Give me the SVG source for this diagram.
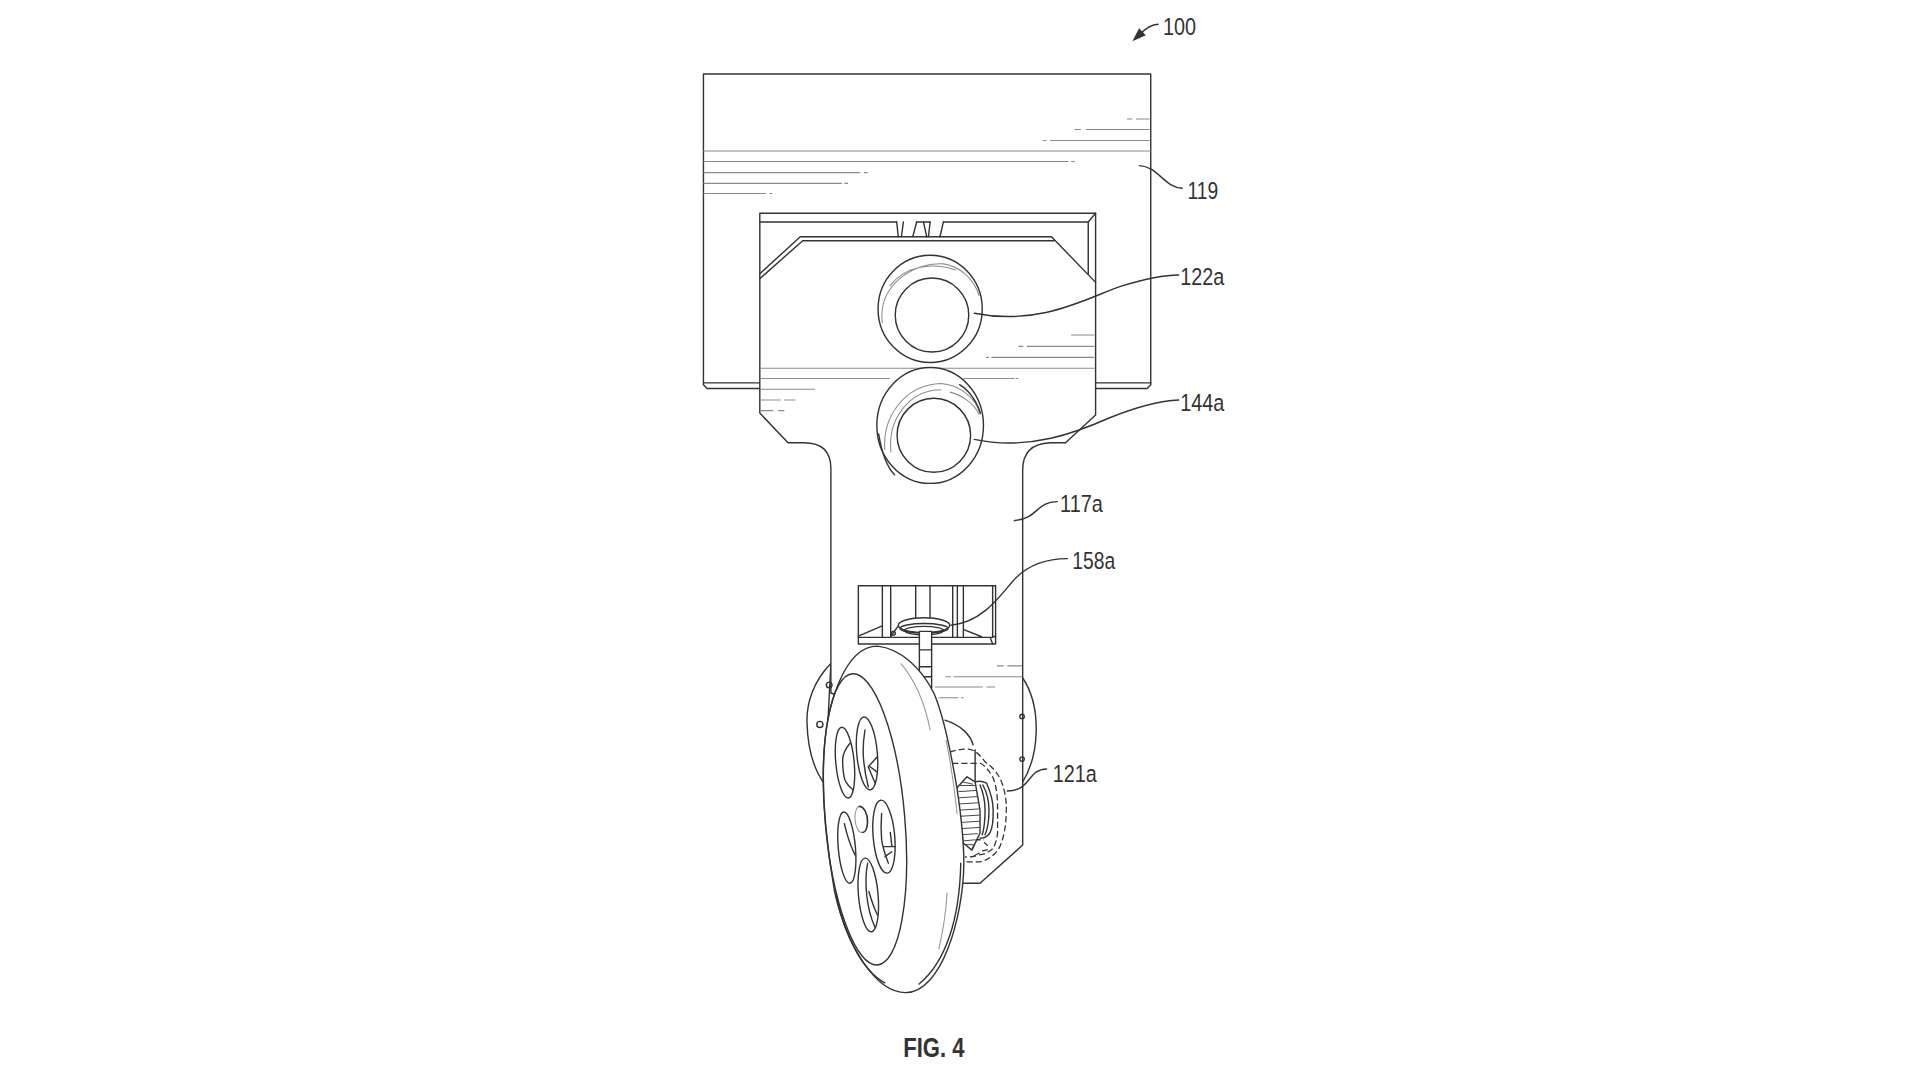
<svg xmlns="http://www.w3.org/2000/svg" width="1920" height="1080" viewBox="0 0 1920 1080">
<style>
.l{fill:none;stroke:#333;stroke-width:1.15;stroke-linecap:round;stroke-linejoin:round}
.f{fill:#fff;stroke:#333;stroke-width:1.15;stroke-linejoin:round}
.h{fill:none;stroke:#8a8a8a;stroke-width:.85}
.d{fill:none;stroke:#333;stroke-width:1.05;stroke-dasharray:5 2.5}
.t{fill:none;stroke:#444;stroke-width:.8}
.g{fill:none;stroke:#9a9a9a;stroke-width:.9}
.n{font-family:"Liberation Sans",Arial,sans-serif;font-size:19.5px;fill:#333}
.c{font-family:"Liberation Sans",Arial,sans-serif;font-size:22px;font-weight:bold;fill:#333}
</style>
<rect width="1920" height="1080" fill="#fff"/>
<g transform="scale(1.2255 1.2331)">
<g id="housing-119">
<path class="f" d="M574,60H939V312L936,315H577L574,312Z"/>
<path class="l" d="M574,310.500H620M894,310.500H939"/>
<path class="h" d="M574,122.500H939M919.500,96.500H924M927,96.500H938M877,105H882M886,105H938M851,114H854M857,114H938M574,131H872M874,131H877M574,140H702M705,140H708M574,148.700H687M689,148.700H692M574,157H625M628,157H630"/>
</g>
<g id="disc-left-right">
<path class="f" d="M678,538C664,552 658,570 658.500,586C659,606 664,624 673,636Z"/>
<path class="f" d="M834,549C843,562 846,578 845.500,594C845,610 841,624 834,635Z"/>
<circle class="l" cx="669" cy="587.500" r="2.500"/>
</g>
<g id="arm-117a">
<path class="f" d="M620,173H894V336.500L869.500,359H857Q834.500,360 834.500,381V685.300L799.700,716.300H700V570L678,562V380Q678,359 656,359H643L620,335Z"/>
<path class="l" d="M620,180H731.700M748,180H759M769.800,180H888L894,173M888,180V222"/>
<path class="l" d="M731.700,180L733,192M737.200,180L735.500,192M748,180L744.800,192M753.500,180L756.200,192M759,180L757.600,192M769.800,180L767,192"/>
<path class="l" d="M620,222L653,192H858L894,229M620,226L655,195.200H860"/>
<path class="h" d="M620,298.700H893M620,307H726M786,307H828M829,307H831M620,315.700H665M620,324.400H637M640,324.400H649M620,333H631M635,333H640M874,271.700H893M831,280.900H835M838,280.900H893M804.500,289.800H807M809,289.800H893M813.500,540H819M822,540H834M771.500,548.800H776M778,548.800H834M763,557.200H802M805,557.200H812M766,565.800H782M784,565.800H786.500"/>
<circle class="l" cx="834" cy="581" r="1.800"/>
<circle class="l" cx="834" cy="615.600" r="1.800"/>
<circle class="l" cx="676.600" cy="555.500" r="2.300"/>
</g>
<g id="boss-122a">
<ellipse class="f" cx="759" cy="250.500" rx="42.500" ry="43.500"/>
<path class="h" d="M720,262C716,232 745,212 770,214C783,216 795,226 799,240M726,232C738,216 760,212 780,219"/>
<circle class="f" cx="760.500" cy="255.500" r="30"/>
</g>
<g id="boss-144a">
<ellipse class="f" cx="759" cy="345" rx="43.500" ry="47"/>
<path class="h" d="M722,365C720,338 738,312 768,311C782,312 796,322 800,336M727,367C724,340 742,316 768,316M775,318C785,320 795,328 799,336"/>
<path class="l" d="M717,352C720,370 725,380 730,385M800,335C797,325 790,316 783,312"/>
<circle class="f" cx="762" cy="353" r="30"/>
</g>
<g id="bracket-158a">
<rect class="f" x="700.400" y="475" width="112" height="47.300"/>
<path class="l" d="M700.400,516.900H809L812.400,516M720,475V516.900M726.800,475V516.900M747.200,475V502M758.900,475V502M777.400,475V516.900M781.200,475V516.900M786.100,475V516.900M810,475V516.900M700.400,515.800L719.400,507.700M786,510.400L801,516.400M808,517L810,522.300"/>
<ellipse class="f" cx="754" cy="507" rx="21" ry="6"/>
<ellipse class="l" cx="754" cy="509.600" rx="19.600" ry="3.900" stroke-width="1.800"/>
<ellipse class="l" cx="754" cy="511.400" rx="16" ry="3.400"/>
<circle class="l" cx="729" cy="513.600" r="1.600"/>
<path class="l" d="M726.800,516L733,507.500"/>
<rect class="f" x="750.200" y="512" width="10" height="46"/>
<path class="l" d="M750.200,527H760.200M750.200,540.700H760.200M750.200,548.800H760.200"/>
</g>
<g id="hub-121a">
<path class="l" d="M771,584C784,588 792,596 794,604M795.700,608V635"/>
<path class="d" d="M775,610C780,608 785,607.500 790,607.500C796,608 800,613 804,618C811,623 815,628 817.600,635C821,645 821.500,652 821,659.600C821,667 820,673 818.600,678.600C817,685 815,689 812,692C808,696 804,698 799.700,699H786"/>
<path class="d" d="M777,619H800C804,621 807,625 810,630C813,637 814,646 814,654V675.500C813.500,681 812,685 810.300,688C807,691 803,693 799.700,693C795,695 791,695 787.500,695"/>
<path class="f" d="M780.700,639L789,630L795.700,634L799.700,657V675.500L793,689.400L786,683.700L782,657Z"/>
<path class="t" d="M783,637L796,637M782,642L797,641M782,647L797.500,646M782.500,652L798.500,651M782.500,657L799.500,656M783,662L799.500,661M783.500,667L799.500,666M784,672L799.500,671M784.500,677L798,676M785.500,682L796,681M788,685L794.500,685M785,634L794,636"/>
<path class="l" d="M795.700,634C800,633 803,634 805,635C808,642 810.500,650 810.400,657C810.600,665 810,671 807.800,675.500C805,679 802,680 799.700,679.600"/>
<path class="l" d="M802,636.600C805,642 807,650 807,657C807,665 806,672 803.800,677"/>
<path class="l" d="M799.700,636.600C802,642 803.800,650 803.800,657C803.800,665 803,672 801.500,677"/>
<path class="d" d="M793,689.400L797,681H803M803,683L806,686M795,694L802,690L806,689"/>
</g>
<g id="wheel">
<path class="f" d="M716,524C735,526 752,542 762,562C769,578 776,610 781,640C784,660 786.500,680 786.500,700C786,745 768,805 739,805C715,805 691,768 681,723C675,690 671,650 672,620C673,570 690,524 716,524Z"/>
<path class="l" d="M682,725C690,762 705,788 722,797M784,700C783,745 772,780 750,798"/>
<path class="g" d="M735,538C747,552 755,572 759,592M772.800,724C772,740 769,757 766,770M772,600C776,620 779,640 781,660"/>
<ellipse class="l" cx="705.800" cy="664.500" rx="32.500" ry="118.500" transform="rotate(-5 705.800 664.500)"/>
<ellipse class="l" cx="689.500" cy="618.500" rx="7.500" ry="28.800" transform="rotate(-5.400 689.500 618.500)"/>
<path class="l" d="M693.600,602.800C690,607 687.600,611 687.600,616.400C687.600,623 688,628 689.500,632.600C691,636 694,639 696.300,640.700"/>
<ellipse class="l" cx="707.500" cy="611" rx="8.400" ry="29.700" transform="rotate(-5 707.500 611)"/>
<path class="l" d="M705.800,592C704.500,600 704,606 704.500,613.700C705,622 706.500,630 708.500,638M715.900,613.700L708.500,621.800L714,635M710,621.800L715.300,625.800"/>
<ellipse class="l" cx="721.300" cy="678.500" rx="8.800" ry="29.700" transform="rotate(-5 721.300 678.500)"/>
<path class="l" d="M719.400,659.600C718.800,667 718.800,674 719.400,681.200C720.500,688 722.500,694 724.900,700M730.300,686.600H720.800M727.600,690.700L722.100,694.700M726.500,675L727.800,686.600"/>
<ellipse class="l" cx="691" cy="687.400" rx="7" ry="29" transform="rotate(-5 691 687.400)"/>
<path class="l" d="M689,668C691,677 694,686 697.700,693.400"/>
<ellipse class="l" cx="708.500" cy="725.800" rx="8" ry="30" transform="rotate(-5 708.500 725.800)"/>
<path class="l" d="M708,700C705,715 707,737 714,752M709,723C711,730 714,738 716,742"/>
<ellipse class="g" cx="702.600" cy="664.500" rx="4.900" ry="10.800" transform="rotate(-5 702.600 664.500)"/>
<path class="l" d="M701,654C705,654 708,660 708,666C708,672 706,675.500 704,675"/>
</g>
<g id="connectors">
<path class="l" d="M929.700,134.300C945,135 950,152 964.700,152.700"/>
<path class="l" d="M795,254C850,265 890,240 915,232C935,226 948,223 961.800,223"/>
<path class="l" d="M795,356.300C840,366 880,350 905,339C925,331 945,325 961.800,324.400"/>
<path class="l" d="M827.700,422.200C848,420 845,407 862.600,406.800"/>
<path class="l" d="M776,507C800,505 815,485 825,473C838,457 855,453 871,453"/>
<path class="l" d="M821.900,641.500C842,641 838,624 854,623.600"/>
<path class="l" d="M931,27C935,23 939,20 945,19.700"/>
<path fill="#333" d="M924,33.500L935,28.500L929.500,23Z"/>
</g>
<g id="labels">
<text class="n" x="949" y="28" textLength="27" lengthAdjust="spacingAndGlyphs">100</text>
<text class="n" x="969" y="161" textLength="25" lengthAdjust="spacingAndGlyphs">119</text>
<text class="n" x="963" y="231" textLength="36" lengthAdjust="spacingAndGlyphs">122a</text>
<text class="n" x="963" y="333" textLength="36" lengthAdjust="spacingAndGlyphs">144a</text>
<text class="n" x="865" y="415" textLength="35" lengthAdjust="spacingAndGlyphs">117a</text>
<text class="n" x="875" y="461.500" textLength="35" lengthAdjust="spacingAndGlyphs">158a</text>
<text class="n" x="859" y="634" textLength="36" lengthAdjust="spacingAndGlyphs">121a</text>
<text class="c" x="737" y="857" textLength="50" lengthAdjust="spacingAndGlyphs">FIG. 4</text>
</g>
</g>
</svg>
